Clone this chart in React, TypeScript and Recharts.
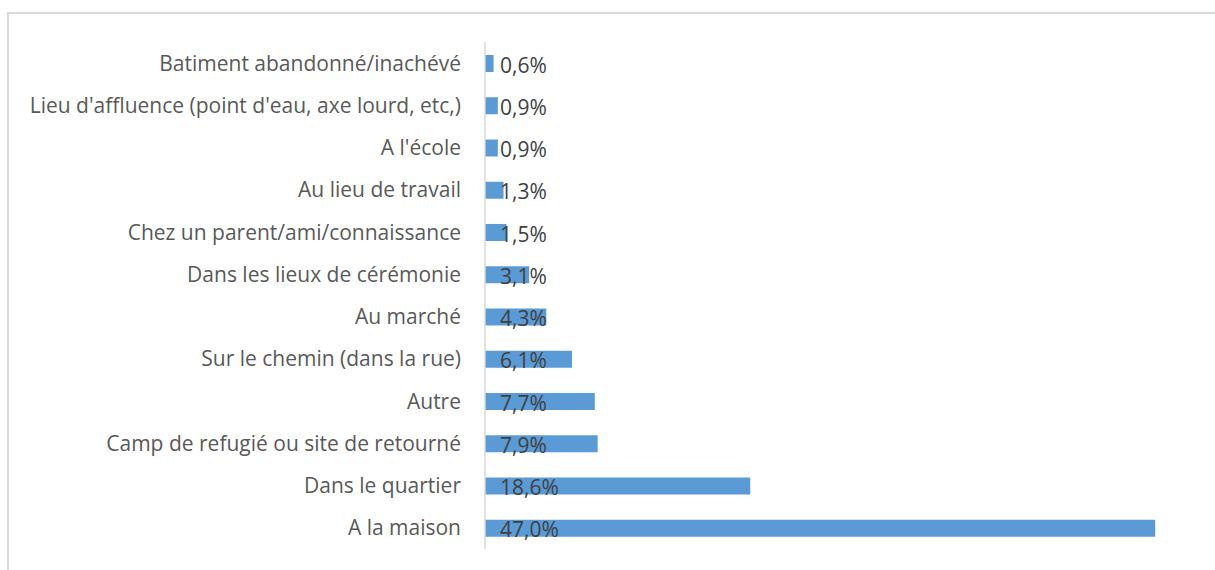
import React from "react";
import { BarChart, Bar, XAxis, YAxis, LabelList } from "recharts";

const categories = [
  "Batiment abandonné/inachévé",
  "Lieu d'affluence (point d'eau, axe lourd, etc,)",
  "A l'école",
  "Au lieu de travail",
  "Chez un parent/ami/connaissance",
  "Dans les lieux de cérémonie",
  "Au marché",
  "Sur le chemin (dans la rue)",
  "Autre",
  "Camp de refugié ou site de retourné",
  "Dans le quartier",
  "A la maison",
];
const values = [0.6, 0.9, 0.9, 1.3, 1.5, 3.1, 4.3, 6.1, 7.7, 7.9, 18.6, 47.0];

const data = categories.map((c, i) => ({ name: c, value: values[i] }));

const FONT = "'Open Sans', 'Noto Sans', sans-serif";

const fmt = (v: number) => v.toFixed(1).replace(".", ",") + "%";

const ValueLabel = (props: any) => {
  const { x, y, height, value } = props;
  return (
    <text
      x={x + 15}
      y={y + height / 2 + 1}
      dominantBaseline="central"
      fill="#404040"
      fontSize={21}
      fontFamily={FONT}
    >
      {fmt(value)}
    </text>
  );
};

export default function App() {
  return (
    <div
      style={{
        position: "absolute",
        left: 0,
        top: 0,
        width: 1215,
        height: 570,
        overflow: "hidden",
        background: "#fff",
      }}
    >
      <div
        style={{
          position: "absolute",
          left: 7,
          top: 12,
          width: 1220,
          height: 600,
          borderLeft: "2px solid #d9d9d9",
          borderTop: "2px solid #d9d9d9",
        }}
      />
      <div style={{ position: "absolute", left: 0, top: 0 }}>
        <BarChart
          width={1215}
          height={570}
          data={data}
          layout="vertical"
          margin={{ top: 42, right: 17, bottom: 21, left: 0 }}
          barCategoryGap={0}
        >
          <XAxis type="number" domain={[0, 50]} hide />
          <YAxis
            type="category"
            dataKey="name"
            width={485}
            tickSize={0}
            tickMargin={24}
            axisLine={{ stroke: "#d9d9d9", strokeWidth: 1.5 }}
            tickLine={false}
            interval={0}
            tick={{ fill: "#595959", fontSize: 21, fontFamily: FONT }}
          />
          <Bar
            dataKey="value"
            fill="#5B9BD5"
            barSize={17}
            isAnimationActive={false}
          >
            <LabelList dataKey="value" content={<ValueLabel />} />
          </Bar>
        </BarChart>
      </div>
    </div>
  );
}
